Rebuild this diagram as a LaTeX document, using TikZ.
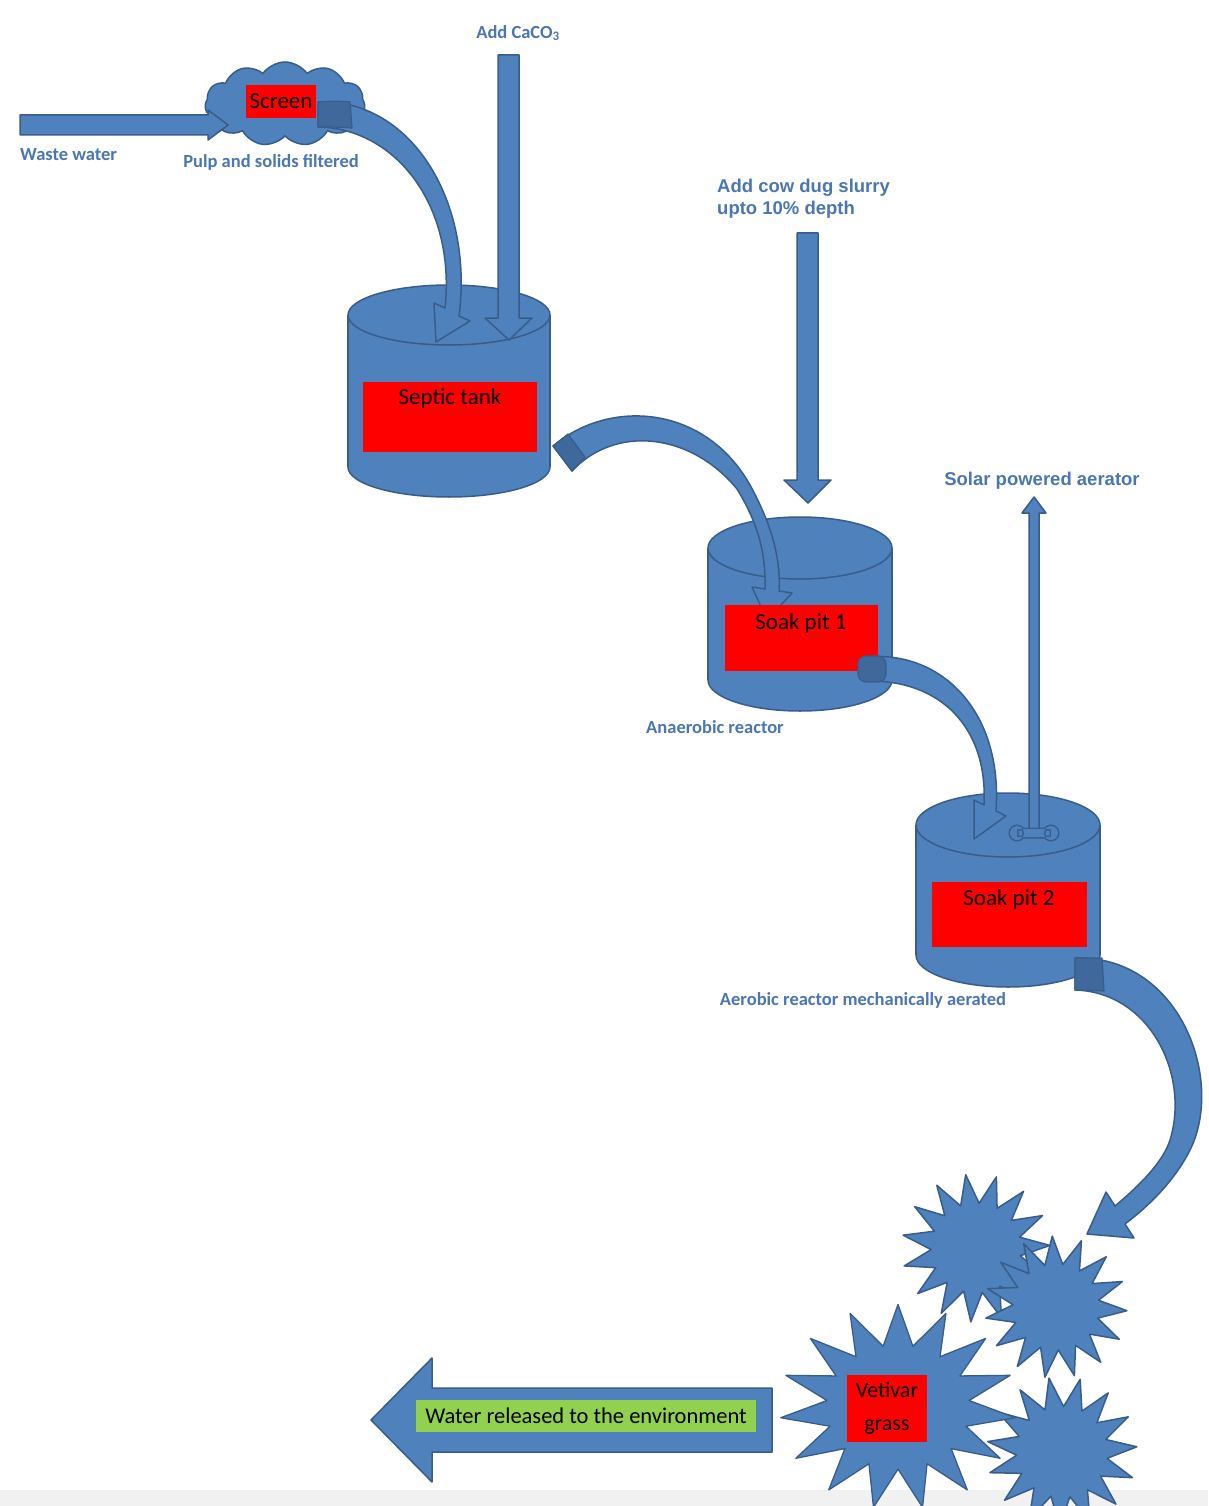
\documentclass[tikz,border=0pt]{standalone}
\usepackage{fontspec}
\setmainfont{Carlito}
\newfontfamily\arialf{Liberation Sans}
\usetikzlibrary{shapes.geometric,shapes.symbols}
\definecolor{fillblue}{HTML}{4F81BD}
\definecolor{lineblue}{HTML}{385D8A}
\definecolor{darkblue}{HTML}{3F689C}
\definecolor{labelblue}{HTML}{4A76B3}
\definecolor{grassgreen}{HTML}{92D050}
\definecolor{pagegrey}{HTML}{F1F1F1}
\tikzset{
  shapeblue/.style={fill=fillblue, draw=lineblue, line width=1.5pt, line join=round},
  darkpatch/.style={fill=darkblue, draw=lineblue, line width=1.2pt, line join=round},
  redbox/.style={fill=red, inner sep=0pt, text=black, font=\fontsize{23}{26}\selectfont},
  lbl/.style={text=labelblue, inner sep=1pt, font=\fontsize{18.5}{22}\selectfont\bfseries},
  albl/.style={text=labelblue, inner sep=1pt, align=left, font=\arialf\fontsize{18.5}{22}\selectfont\bfseries},
  starblob/.style={star, star points=15, star point ratio=1.65, shapeblue, inner sep=0pt}
}
\newcommand{\drawtank}[6]{%
  \filldraw[shapeblue] (#2,#5) ellipse [x radius=#3, y radius=#6];
  \fill[fillblue] (#2-#3,#4) rectangle (#2+#3,#5);
  \draw[lineblue, line width=1.5pt] (#2-#3,#4) -- (#2-#3,#5) (#2+#3,#4) -- (#2+#3,#5);
  \filldraw[shapeblue] (#2,#4) ellipse [x radius=#3, y radius=#6];
  \coordinate (#1) at (#2,#4);}
\begin{document}
\begin{tikzpicture}[x=1pt,y=-1pt]
\useasboundingbox (0,0) rectangle (1208,1506);
\fill[white] (0,0) rectangle (1208,1506);
\fill[pagegrey] (0,1490) rectangle (1208,1506);

% tanks
\drawtank{septic}{449}{101}{315}{467}{30}
\drawtank{pitone}{800}{92}{548}{680}{31}
\drawtank{pittwo}{1008}{92}{825}{955}{32}

% straight arrows
\filldraw[shapeblue] (498,55) -- (519,55) -- (519,318) -- (532,318) -- (509,340) -- (485,318) -- (498,318) -- cycle;
\filldraw[shapeblue] (797,233) -- (818,233) -- (818,480) -- (831,480) -- (808,503) -- (784,480) -- (797,480) -- cycle;
% aerator
\filldraw[shapeblue] (1029,832) -- (1029,513) -- (1022,513) -- (1034,497) -- (1046,513) -- (1039,513) -- (1039,832) -- cycle;
\path[draw=lineblue, line width=3pt] (1017,833) circle[radius=7] (1051,833) circle[radius=7] (1017,829) rectangle (1051,837);
\path[fill=fillblue] (1017,833) circle[radius=7] (1051,833) circle[radius=7] (1017,829) rectangle (1051,837);

% screen cloud
\node[cloud, cloud puffs=11, cloud puff arc=110, aspect=1.8, minimum width=160pt, minimum height=84pt, shapeblue] (screen) at (285,104) {};
\node[redbox, minimum width=70pt, minimum height=33pt] (screenbox) at (281,101.5) {Screen};
% waste water arrow
\filldraw[shapeblue] (20,115) -- (208,115) -- (208,110) -- (228,125) -- (208,140) -- (208,135) -- (20,135) -- cycle;

% curved arrow screen -> septic tank
\filldraw[shapeblue] (318,102) .. controls (410,98) and (474,200) .. (459,316) -- (470,321) -- (436,342) -- (434,303) -- (445,308) .. controls (456,205) and (395,128) .. (318,127) -- cycle;
\filldraw[darkpatch] (318,102) .. controls (330,101) and (340,101) .. (350,102) -- (352,128) .. controls (340,127) and (330,127) .. (318,127) -- cycle;

% curved arrow septic -> soak pit 1
\filldraw[shapeblue] (553,446) .. controls (610,398) and (705,405) .. (750,485) .. controls (772,525) and (781,560) .. (779,591) -- (792,593) -- (767,620) -- (752,587) -- (765,589) .. controls (766,555) and (759,525) .. (737,489) .. controls (690,432) and (615,425) .. (572,471) -- cycle;
\filldraw[darkpatch] (553,446) -- (568,434) -- (585,457) -- (572,471) -- cycle;

% red boxes
\node[redbox, anchor=north, minimum width=174pt, text height=22pt, text depth=48pt] (septicbox) at (450,382) {Septic tank};
\node[redbox, anchor=north, minimum width=153pt, text height=24pt, text depth=42pt] (pitonebox) at (801,605) {Soak pit 1};
\node[redbox, anchor=north, minimum width=155pt, text height=23pt, text depth=42pt] (pittwobox) at (1009,882) {Soak pit 2};

% curved arrow soak pit 1 -> soak pit 2
\filldraw[shapeblue] (866,657) .. controls (942,650) and (1003,712) .. (996,811) -- (1006,816) -- (974,839) -- (974,800) -- (984,805) .. controls (988,727) and (940,680) .. (868,681) -- cycle;
\filldraw[darkpatch, rounded corners=8pt] (858,656) rectangle (886,682);

% stars
\node[starblob, minimum size=148pt, rotate=8] (starA) at (976,1248) {};
\node[starblob, minimum size=142pt, rotate=3] (starB) at (1056,1307) {};
\node[starblob, minimum size=150pt, rotate=10] (starD) at (1062,1452) {};
\begin{scope}[shift={(898,1407)}, xscale=1.15]
\node[starblob, minimum size=205pt, transform shape, line width=1.3pt] (starC) at (0,0) {};
\end{scope}
\node[redbox, minimum width=80pt, minimum height=67pt, align=center, font=\fontsize{22}{33}\selectfont] (vetivar) at (887,1408) {Vetivar\\grass};

% outflow arrow
\filldraw[shapeblue] (772,1388) -- (432,1388) -- (432,1358) -- (371,1420) -- (432,1482) -- (432,1452) -- (772,1452) -- cycle;
\node[fill=grassgreen, inner sep=0pt, minimum width=340pt, minimum height=32pt, text=black, font=\fontsize{22.5}{24}\selectfont] (water) at (586,1416) {Water released to the environment};

% curved arrow soak pit 2 -> vetivar
\filldraw[shapeblue] (1075,958) .. controls (1180,955) and (1225,1080) .. (1190,1150) .. controls (1175,1180) and (1150,1205) .. (1125,1224) -- (1134,1238) -- (1087,1234) -- (1106,1192) -- (1115,1206) .. controls (1140,1185) and (1163,1162) .. (1170,1140) .. controls (1190,1075) and (1150,992) .. (1075,990) -- cycle;
\filldraw[darkpatch] (1075,958) -- (1102,958) -- (1104,991) -- (1075,990) -- cycle;

% labels
\node[lbl, anchor=west] (wastelbl) at (19,155) {Waste water};
\node[lbl] (pulplbl) at (271,162) {Pulp and solids filtered};
\node[lbl] (caco) at (518,33) {Add CaCO\textsubscript{3}};
\node[albl, anchor=north west] (cowlbl) at (716,178) {Add cow dug slurry\\upto 10\% depth};
\node[albl] (solarlbl) at (1042,481) {Solar powered aerator};
\node[lbl] (anaerlbl) at (715,727) {Anaerobic reactor};
\node[lbl] (aerlbl) at (863,1000) {Aerobic reactor mechanically aerated};
\end{tikzpicture}
\end{document}
